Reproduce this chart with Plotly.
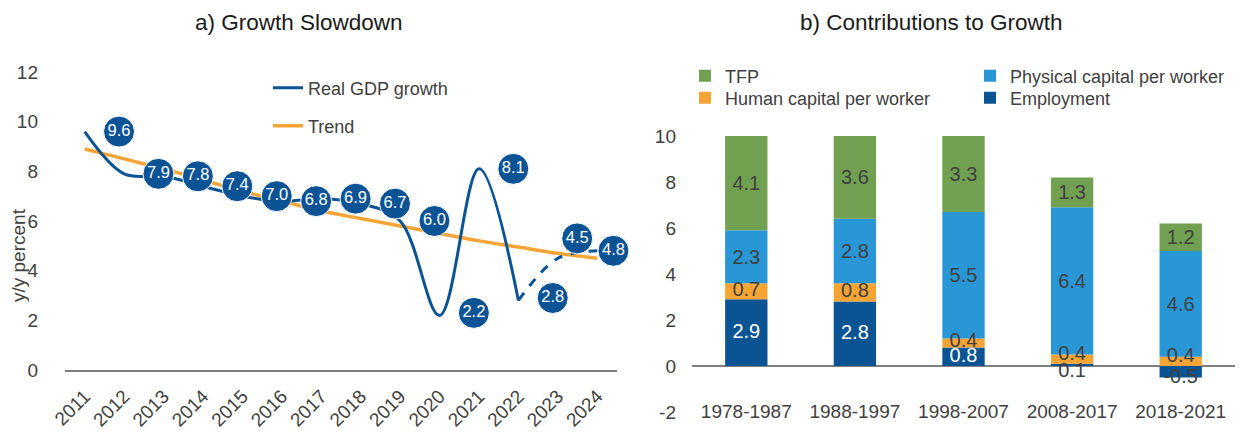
import plotly.graph_objects as go

# ---------------- data ----------------
years = ["2011", "2012", "2013", "2014", "2015", "2016", "2017",
         "2018", "2019", "2020", "2021", "2022", "2023", "2024"]
gdp_growth = [9.6, 7.9, 7.8, 7.4, 7.0, 6.8, 6.9, 6.7, 6.0, 2.2, 8.1, 2.8, 4.5, 4.8]
trend = [8.9, 8.5, 8.1, 7.65, 7.2, 6.8, 6.4, 6.1, 5.8, 5.5, 5.2, 4.95, 4.7, 4.5]
n_actual = 12  # 2011-2022 actual; 2022 onward dashed (projection)

periods = ["1978-1987", "1988-1997", "1998-2007", "2008-2017", "2018-2021"]
employment = [2.9, 2.8, 0.8, 0.1, -0.5]
human_capital = [0.7, 0.8, 0.4, 0.4, 0.4]
physical_capital = [2.3, 2.8, 5.5, 6.4, 4.6]
tfp = [4.1, 3.6, 3.3, 1.3, 1.2]

y2_ticks = [-2, 0, 2, 4, 6, 8, 10]
y2_ticktext = ["-2", "0", "2", "4", "6", "8", "10"]

# ---------------- styles ----------------
FONT = "Liberation Sans, Arial, sans-serif"
TXT = "#404040"
BLUE = "#0B5394"
ORANGE = "#F5A537"
C_EMP = "#0A5494"
C_HUM = "#F6A535"
C_PHY = "#2996D5"
C_TFP = "#70A050"
TICK = 19
BARTXT = 20
LEG = 18

# page body has an 8px default margin: size the figure so it fills the window
OFF = 8
W, H = 1250 - OFF, 433 - OFF


def px(x):
    return (x - OFF) / W


def py(y):
    return 1 - (y - OFF) / H


# label circle offsets (in category units) relative to each point
lab_dx = [0.87] * 12 + [0.49, 0.41]
lab_dy = [0, 0, 0, 0, 0, 0, 0, 0, 0, 0.1, 0, 0.1, 0.8, 0]
# small nudges of the human-capital labels (avoid collisions near zero)
hum_dy = [0, 0, 0.05, 0.2, 0.2]

idx = list(range(len(years)))

fig = go.Figure()

# Trend
fig.add_trace(go.Scatter(
    x=idx, y=trend, mode="lines", name="Trend",
    line=dict(color=ORANGE, width=3.5, shape="spline", smoothing=1),
    xaxis="x", yaxis="y", legend="legend2",
))
# Real GDP growth (actual)
fig.add_trace(go.Scatter(
    x=idx[:n_actual], y=gdp_growth[:n_actual], mode="lines", name="Real GDP growth",
    line=dict(color=BLUE, width=3, shape="spline", smoothing=1),
    xaxis="x", yaxis="y", legend="legend",
))
# Real GDP growth (projection, dashed)
fig.add_trace(go.Scatter(
    x=idx[n_actual - 1:], y=gdp_growth[n_actual - 1:], mode="lines",
    line=dict(color=BLUE, width=3, shape="spline", smoothing=1, dash="dash"),
    xaxis="x", yaxis="y", showlegend=False,
))
# Data label circles
fig.add_trace(go.Scatter(
    x=[i + d for i, d in zip(idx, lab_dx)],
    y=[v + d for v, d in zip(gdp_growth, lab_dy)],
    mode="markers+text",
    marker=dict(size=31, color=BLUE, line=dict(color="white", width=1)),
    text=[f"{v:.1f}" for v in gdp_growth],
    textposition="middle center",
    textfont=dict(color="white", size=16.5, family=FONT),
    xaxis="x", yaxis="y", showlegend=False, cliponaxis=False, hoverinfo="skip",
))


# ---------------- stacked bars ----------------
def bar(vals, name, color, legend, show_text=True):
    return go.Bar(
        x=periods, y=vals, name=name, marker=dict(color=color, line=dict(width=0)),
        text=[f"{v:.1f}" for v in vals] if show_text else None,
        textposition="inside" if show_text else "none", insidetextanchor="middle",
        textangle=0, textfont=dict(color=TXT, size=BARTXT, family=FONT),
        xaxis="x2", yaxis="y2", legend=legend, cliponaxis=False,
    )


fig.add_trace(bar(employment, "Employment", C_EMP, "legend6", show_text=False))
fig.add_trace(bar(human_capital, "Human capital per worker", C_HUM, "legend4", show_text=False))
fig.add_trace(bar(physical_capital, "Physical capital per worker", C_PHY, "legend5"))
fig.add_trace(bar(tfp, "TFP", C_TFP, "legend3"))

# Employment labels: centred in large segments, just below the axis for small ones
big = [v >= 0.5 for v in employment]
emp_label_y = [v / 2 if b else min(v, -0.28) for v, b in zip(employment, big)]
emp_label_col = ["white" if b else TXT for b in big]
fig.add_trace(go.Scatter(
    x=periods, y=emp_label_y, mode="text", text=[f"{v:.1f}" for v in employment],
    textposition="middle center",
    textfont=dict(color=emp_label_col, size=BARTXT, family=FONT),
    xaxis="x2", yaxis="y2", showlegend=False, cliponaxis=False, hoverinfo="skip",
))
# Human capital labels: centre of their stacked segment
hum_label_y = [max(e, 0) + h / 2 + d for e, h, d in zip(employment, human_capital, hum_dy)]
fig.add_trace(go.Scatter(
    x=periods, y=hum_label_y, mode="text", text=[f"{v:.1f}" for v in human_capital],
    textposition="middle center",
    textfont=dict(color=TXT, size=BARTXT, family=FONT),
    xaxis="x2", yaxis="y2", showlegend=False, cliponaxis=False, hoverinfo="skip",
))


def leg(x, yc):
    return dict(x=px(x), y=py(yc), xanchor="left", yanchor="middle",
                bgcolor="rgba(0,0,0,0)", font=dict(size=LEG, color=TXT), itemwidth=30)


fig.update_layout(
    width=W, height=H,
    margin=dict(l=0, r=0, t=0, b=0, autoexpand=False),
    paper_bgcolor="white", plot_bgcolor="white",
    font=dict(family=FONT, color=TXT, size=TICK),
    barmode="relative", bargap=0.61,
    uniformtext=dict(minsize=BARTXT, mode="show"),
    xaxis=dict(domain=[px(65), px(617)], range=[-0.5, 13.5], tickvals=idx, ticktext=years,
               tickangle=-45, showline=True, linecolor="#7F7F7F", linewidth=1.5,
               showgrid=False, zeroline=False, tickfont=dict(size=TICK, color=TXT),
               ticklabelstandoff=6, anchor="y", automargin=False),
    yaxis=dict(domain=[py(370), py(72)], range=[0, 12], dtick=2,
               showgrid=False, zeroline=False, showline=False, anchor="x",
               ticklabelstandoff=26, tickfont=dict(size=TICK, color=TXT), automargin=False),
    xaxis2=dict(domain=[px(692), px(1235)], anchor="free", position=py(398),
                type="category", showline=False, showgrid=False, zeroline=False,
                tickfont=dict(size=TICK, color=TXT), automargin=False),
    yaxis2=dict(domain=[py(412), py(136)], range=[-2, 10], tickvals=y2_ticks,
                ticktext=y2_ticktext,
                anchor="x2", showgrid=False, showline=False, zeroline=True,
                zerolinecolor="#7F7F7F", zerolinewidth=1.5, ticklabelstandoff=15,
                tickfont=dict(size=TICK, color=TXT), automargin=False),
    legend=leg(268, 88),
    legend2=leg(268, 126),
    legend3=leg(685, 76),
    legend4=leg(685, 98),
    legend5=leg(970, 76),
    legend6=leg(970, 98),
    annotations=[
        dict(text="a) Growth Slowdown", x=px(299), y=py(23), xref="paper", yref="paper",
             xanchor="center", yanchor="middle", showarrow=False,
             font=dict(size=22.5, color="#1A1A1A", family=FONT)),
        dict(text="b) Contributions to Growth", x=px(931), y=py(23), xref="paper",
             yref="paper", xanchor="center", yanchor="middle", showarrow=False,
             font=dict(size=22.5, color="#1A1A1A", family=FONT)),
        dict(text="y/y percent", x=px(18), y=py(255), xref="paper", yref="paper",
             xanchor="center", yanchor="middle", textangle=-90, showarrow=False,
             font=dict(size=19, color=TXT, family=FONT)),
    ],
)

fig.write_html("out.html")
